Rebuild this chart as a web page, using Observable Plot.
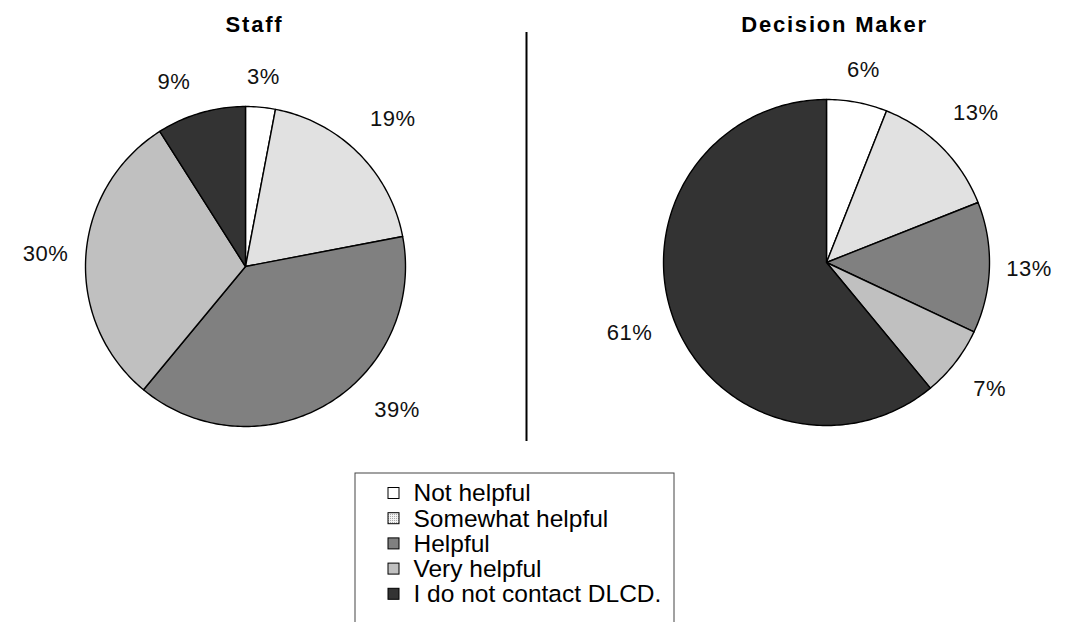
<!DOCTYPE html>
<html>
<head>
<meta charset="utf-8">
<script src="https://cdn.jsdelivr.net/npm/d3@7"></script>
<script src="https://cdn.jsdelivr.net/npm/@observablehq/plot@0.6"></script>
<style>
  html, body { margin: 0; padding: 0; background: #fff; }
  #chart svg { display: block; }
</style>
</head>
<body>
<div id="chart"></div>
<script>
// Survey answers: how helpful is contact with DLCD?
const categories = ["Not helpful", "Somewhat helpful", "Helpful", "Very helpful", "I do not contact DLCD."];
const staffValues = [3, 19, 39, 30, 9];
const decisionMakerValues = [6, 13, 13, 7, 61];
const groupTitles = ["Staff", "Decision Maker"];
const sliceFills = ["#ffffff", "url(#dots)", "#808080", "#c0c0c0", "#333333"];

// Layout (pixels)
const W = 1071, H = 622;
const font = "'Liberation Sans', Arial, Helvetica, sans-serif";
const pieLayout = [
  {cx: 245, cy: 266, r: 160, titleX: 254},
  {cx: 826, cy: 262, r: 163, titleX: 834}
];
const labelFont = 22;
const labelBase = 19;                // gap between rim and label box
const labelDiagonal = 9;             // extra push for labels off the diagonals
const labelTurn = {"Staff|Helpful": -16, "Staff|I do not contact DLCD.": -5}; // degrees
const legend = {x1: 355, x2: 674, y1: 473, rowY0: 493, rowStep: 25.2, swatchX: 388, swatch: 11, textX: 413, fontSize: 24.5};

const groups = [staffValues, decisionMakerValues].map((values, g) => ({
  title: groupTitles[g],
  rows: categories.map((category, i) => ({category, value: values[i]})),
  ...pieLayout[g]
}));

// Slice outlines: centre -> arc -> centre, angles from d3.pie (0 = 12 o'clock, clockwise)
const pie = d3.pie().sort(null).value(d => d.value);
const slicePoints = [];
const labels = [];
for (const grp of groups) {
  for (const a of pie(grp.rows)) {
    const key = grp.title + "|" + a.data.category;
    const n = Math.max(2, Math.ceil((a.endAngle - a.startAngle) / (Math.PI / 180)) + 1);
    slicePoints.push({key, category: a.data.category, x: grp.cx, y: grp.cy});
    for (let k = 0; k < n; k++) {
      const t = a.startAngle + (a.endAngle - a.startAngle) * k / (n - 1);
      slicePoints.push({key, category: a.data.category, x: grp.cx + grp.r * Math.sin(t), y: grp.cy - grp.r * Math.cos(t)});
    }
    slicePoints.push({key, category: a.data.category, x: grp.cx, y: grp.cy});
    // label box sits just outside the rim along the slice's mid-angle
    const text = a.data.value + "%";
    const mid = (a.startAngle + a.endAngle) / 2 + (labelTurn[key] || 0) * Math.PI / 180;
    const halfW = text.length * labelFont * 0.3, halfH = labelFont * 0.4;
    const d = grp.r + labelBase
      + Math.abs(Math.sin(mid)) * halfW + Math.abs(Math.cos(mid)) * halfH
      + Math.abs(Math.sin(2 * mid)) * labelDiagonal;
    labels.push({x: grp.cx + d * Math.sin(mid), y: grp.cy - d * Math.cos(mid), text});
  }
}

const legendRows = categories.map((category, i) => ({category, y: legend.rowY0 + i * legend.rowStep}));

const svg = Plot.plot({
  width: W,
  height: H,
  margin: 0,
  x: {domain: [0, W], range: [0, W], axis: null},
  y: {domain: [0, H], range: [0, H], axis: null},
  color: {type: "ordinal", domain: categories, range: sliceFills},
  style: {fontFamily: font, background: "#fff", overflow: "hidden"},
  marks: [
    // pies
    Plot.line(slicePoints, {x: "x", y: "y", z: "key", fill: "category", stroke: "#000", strokeWidth: 1.4, strokeLinejoin: "round", curve: "linear"}),
    // percentage labels
    Plot.text(labels, {x: "x", y: "y", text: "text", fontSize: labelFont, fill: "#111", textAnchor: "middle", lineAnchor: "middle"}),
    // titles
    Plot.text(groups, {x: "titleX", y: () => 24, text: "title", fontSize: 22, fontWeight: "bold", fill: "#000", textAnchor: "middle", lineAnchor: "middle"}),
    // divider between the two pies
    Plot.ruleX([526], {y1: 32, y2: 441, stroke: "#000", strokeWidth: 2}),
    // legend box (open at the bottom edge)
    Plot.rect([legend], {x1: "x1", x2: "x2", y1: "y1", y2: () => H + 10, fill: "#fff", stroke: "#444", strokeWidth: 1}),
    Plot.rect(legendRows, {x1: () => legend.swatchX, x2: () => legend.swatchX + legend.swatch, y1: d => d.y - legend.swatch / 2, y2: d => d.y + legend.swatch / 2, fill: "category", stroke: "#000", strokeWidth: 1}),
    Plot.text(legendRows, {x: () => legend.textX, y: "y", text: "category", fontSize: legend.fontSize, fill: "#000", textAnchor: "start", lineAnchor: "middle"})
  ]
});

// stipple pattern for "Somewhat helpful"
const ns = "http://www.w3.org/2000/svg";
const defs = document.createElementNS(ns, "defs");
defs.innerHTML = '<pattern id="dots" width="2" height="2" patternUnits="userSpaceOnUse">' +
  '<rect width="2" height="2" fill="#f3f3f3"/><rect width="1" height="1" fill="#a9a9a9"/></pattern>';
svg.insertBefore(defs, svg.firstChild);

// widen the tracking of the two group titles and the share labels
for (const t of svg.querySelectorAll("text")) {
  if (groupTitles.includes(t.textContent)) t.setAttribute("letter-spacing", "1.8");
  else if (/%$/.test(t.textContent)) t.setAttribute("letter-spacing", "0.5");
}

document.getElementById("chart").appendChild(svg);
</script>
</body>
</html>
